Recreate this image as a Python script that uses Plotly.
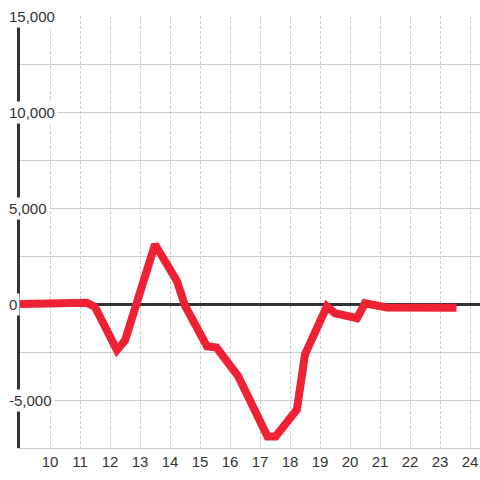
import plotly.graph_objects as go

# Data (hours of day vs value)
hours = [8.93, 10.0, 10.5, 11.0, 11.23, 11.5, 12.23, 12.5, 13.5, 14.23, 14.5, 15.23, 15.55,
         16.27, 17.25, 17.52, 18.23, 18.5, 19.23, 19.5, 20.23, 20.5, 21.23, 23.55]
values = [0, 0, -30, -10, 60, -150, -2400, -1900, 3100, 1200, -80, -2200, -2270,
          -3750, -6900, -6900, -5500, -2620, -120, -480, -740, 40, -180, -200]

x_ticks = list(range(10, 25))
y_label_vals = [15000, 10000, 5000, 0, -5000]
y_label_text = ["15,000", "10,000", "5,000", "0", "-5,000"]

FONT = "Liberation Sans, Arial, sans-serif"

fig = go.Figure()
fig.add_trace(go.Scatter(x=hours, y=values, mode="lines",
                         line=dict(color="#EE2233", width=8),
                         hoverinfo="skip", showlegend=False))

for v, t in zip(y_label_vals, y_label_text):
    fig.add_annotation(x=0, xref="paper", y=v, yref="y", text=t, showarrow=False,
                       xanchor="left", yanchor="middle", xshift=-14,
                       bgcolor="white", borderpad=2,
                       font=dict(family=FONT, size=15, color="#333"))

fig.update_layout(
    width=480, height=480,
    margin=dict(l=20, r=0, t=16, b=32),
    paper_bgcolor="white", plot_bgcolor="white",
    xaxis=dict(range=[9, 9 + 460 / 30], tickvals=x_ticks, ticktext=[str(v) for v in x_ticks],
               showgrid=True, gridcolor="#cccccc", gridwidth=1, griddash="3px,2px",
               showline=True, linecolor="#cccccc", linewidth=1, zeroline=False,
               ticks="", tickfont=dict(family=FONT, size=15, color="#333")),
    yaxis=dict(range=[-7500, 15000], dtick=2500, tick0=0, showticklabels=False,
               showgrid=True, gridcolor="#cccccc", gridwidth=1,
               zeroline=True, zerolinecolor="#333333", zerolinewidth=3,
               showline=True, linecolor="#333333", linewidth=3, ticks=""),
)

fig.write_html("out.html", config={"displayModeBar": False},
               post_script="document.body.style.margin='0';")
